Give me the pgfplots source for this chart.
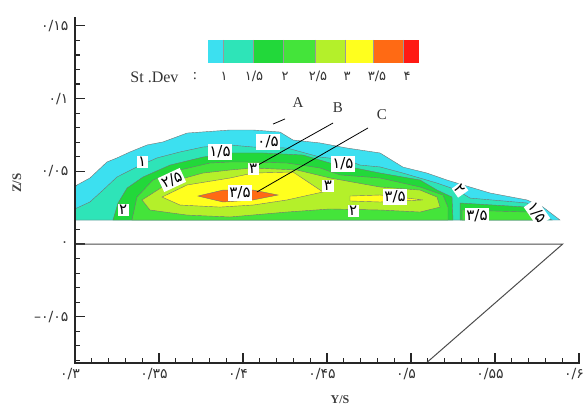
\documentclass[border=0pt]{standalone}
\usepackage{pgfplots}
\pgfplotsset{compat=1.18}
\usepackage{fontspec}
\setmainfont{Liberation Serif}
\newfontfamily\fa{DejaVu Sans}
\definecolor{c0}{HTML}{3CE0F0}
\definecolor{c1}{HTML}{2EE4B8}
\definecolor{c2}{HTML}{22D83A}
\definecolor{c3}{HTML}{44E43A}
\definecolor{c4}{HTML}{B4F02A}
\definecolor{c5}{HTML}{FFFF1E}
\definecolor{c6}{HTML}{FF6A14}
\definecolor{c7}{HTML}{FF1A14}
\tikzset{lab/.style={fill=white, inner sep=1.5pt, font=\fa\fontsize{15}{15}\selectfont}}
\begin{document}
\begin{tikzpicture}
\useasboundingbox (0,0) rectangle (587pt,408pt);
\begin{axis}[
  at={(75pt,45.3pt)}, anchor=south west,
  scale only axis, width=504pt, height=345.7pt,
  xmin=0.3, xmax=0.6, ymin=-0.0816, ymax=0.1561,
  axis x line=bottom, axis y line=left,
  axis line style={-, line width=1.5pt, black!85},
  tick align=inside,
  major tick length=10pt, minor tick length=5pt,
  every tick/.style={line width=1.1pt, black!85},
  xtick={0.3,0.35,0.4,0.45,0.5,0.55,0.6},
  xticklabels={{۰/۳},{۰/۳۵},{۰/۴},{۰/۴۵},{۰/۵},{۰/۵۵},{۰/۶}},
  ytick={-0.05,0,0.05,0.1,0.15},
  yticklabels={{–۰/۰۵},{۰},{۰/۰۵},{۰/۱},{۰/۱۵}},
  minor xtick={0.31,0.32,0.33,0.34,0.36,0.37,0.38,0.39,0.41,0.42,0.43,0.44,0.46,0.47,0.48,0.49,0.51,0.52,0.53,0.54,0.56,0.57,0.58,0.59},
  minor ytick={-0.08,-0.07,-0.06,-0.04,-0.03,-0.02,-0.01,0.01,0.02,0.03,0.04,0.06,0.07,0.08,0.09,0.11,0.12,0.13,0.14},
  ticklabel style={font=\fa\fontsize{14}{14}\selectfont, text=black!80},
  xticklabel style={yshift=-2pt, xshift=-5pt},
  yticklabel style={xshift=-3pt},
  clip=false,
]
% >= 0.5
\addplot[fill=c0, draw=black!55, line width=0.4pt] coordinates {
(0.3,0.0165) (0.3,0.0392) (0.3012,0.0406) (0.3089,0.0454) (0.3190,0.0564) (0.3250,0.0592)
(0.3327,0.0633) (0.3429,0.0681) (0.3524,0.0702) (0.3667,0.0763) (0.3923,0.0784)
(0.4060,0.0784) (0.4220,0.0770) (0.4298,0.0715) (0.4458,0.0695) (0.4619,0.0660)
(0.4816,0.0626) (0.4952,0.0529) (0.5095,0.0488) (0.5214,0.0440) (0.5351,0.0392)
(0.5470,0.0351) (0.5690,0.0303) (0.5786,0.0254) (0.5887,0.0165)} -- cycle;
% >= 1
\addplot[fill=c1, draw=black!55, line width=0.4pt] coordinates {
(0.3,0.0165) (0.3,0.0241) (0.3012,0.0248) (0.3089,0.0289) (0.3167,0.0371) (0.3250,0.0461)
(0.3369,0.0530) (0.3488,0.0592) (0.3625,0.0633) (0.3762,0.0667) (0.3923,0.0681)
(0.4060,0.0667) (0.4262,0.0660) (0.4458,0.0598) (0.4619,0.0578) (0.4696,0.0543)
(0.4816,0.0530) (0.4952,0.0488) (0.5155,0.0419) (0.5274,0.0371) (0.5351,0.0316)
(0.5690,0.0282) (0.5750,0.0220) (0.5839,0.0165)} -- cycle;
% >= 1.5
\addplot[fill=c2, draw=black!55, line width=0.4pt] coordinates {
(0.3226,0.0165) (0.3256,0.0282) (0.3310,0.0385) (0.3405,0.0461) (0.3566,0.0543)
(0.3762,0.0598) (0.3923,0.0626) (0.4119,0.0626) (0.4357,0.0612) (0.4518,0.0557)
(0.4816,0.0488) (0.5054,0.0440) (0.5155,0.0371) (0.5244,0.0323) (0.5250,0.0165)} -- cycle;
\addplot[fill=c2, draw=black!55, line width=0.4pt] coordinates {
(0.5292,0.0165) (0.5292,0.0282) (0.5690,0.0254) (0.5786,0.0165)} -- cycle;
% >= 2
\addplot[fill=c3, draw=black!55, line width=0.4pt] coordinates {
(0.3339,0.0165) (0.3369,0.0323) (0.3464,0.0440) (0.3625,0.0509) (0.3804,0.0557)
(0.3923,0.0564) (0.4060,0.0564) (0.4262,0.0557) (0.4458,0.0523) (0.4577,0.0475)
(0.4816,0.0454) (0.5054,0.0392) (0.5190,0.0337) (0.5220,0.0254) (0.5220,0.0165)} -- cycle;
\addplot[fill=c3, draw=black!55, line width=0.4pt] coordinates {
(0.5304,0.0165) (0.5304,0.0234) (0.5690,0.0220) (0.5750,0.0165)} -- cycle;
% >= 2.5
\addplot[fill=c4, draw=black!55, line width=0.4pt] coordinates {
(0.3399,0.0303) (0.3566,0.0426) (0.3762,0.0488) (0.3923,0.0509) (0.4060,0.0523)
(0.4321,0.0509) (0.4518,0.0454) (0.4816,0.0392) (0.5054,0.0371) (0.5155,0.0323)
(0.5173,0.0254) (0.5054,0.0220) (0.4816,0.0234) (0.4518,0.0241) (0.4262,0.0220)
(0.3923,0.0186) (0.3667,0.0199) (0.3446,0.0234)} -- cycle;
% >= 3
\addplot[fill=c5, draw=black!55, line width=0.4pt] coordinates {
(0.3518,0.0323) (0.3667,0.0406) (0.3923,0.0454) (0.4060,0.0488) (0.4298,0.0495)
(0.4476,0.0358) (0.4262,0.0303) (0.4060,0.0268) (0.3863,0.0254) (0.3625,0.0268)} -- cycle;
\addplot[fill=c5, draw=black!55, line width=0.4pt] coordinates {
(0.4637,0.0330) (0.4816,0.0337) (0.5071,0.0303) (0.4816,0.0289) (0.4637,0.0296)} -- cycle;
% >= 3.5
\addplot[fill=c6, draw=black!55, line width=0.4pt] coordinates {
(0.3732,0.0330) (0.3881,0.0371) (0.4060,0.0371) (0.4208,0.0337) (0.4060,0.0303)
(0.3881,0.0289)} -- cycle;
% wing outline
\addplot[black!70, line width=1pt] coordinates {(0.3,0) (0.5903,0) (0.5093,-0.0816)};
% annotation lines
\draw[black, line width=0.8pt] (axis cs:0.4179,0.0825) -- (axis cs:0.4250,0.0860);
\draw[black, line width=0.8pt] (axis cs:0.4536,0.0832) -- (axis cs:0.4089,0.0543);
\draw[black, line width=0.8pt] (axis cs:0.4744,0.0798) -- (axis cs:0.4083,0.0358);
\node[font=\fontsize{15}{15}\selectfont, text=black!80] at (axis cs:0.4327,0.0970) {A};
\node[font=\fontsize{15}{15}\selectfont, text=black!80] at (axis cs:0.4565,0.0935) {B};
\node[font=\fontsize{15}{15}\selectfont, text=black!80] at (axis cs:0.4827,0.0887) {C};
% contour labels
\node[lab] at (axis cs:0.3399,0.0564) {۱};
\node[lab] at (axis cs:0.3863,0.0633) {۱/۵};
\node[lab] at (axis cs:0.4149,0.0702) {۰/۵};
\node[lab] at (axis cs:0.4060,0.0516) {۳};
\node[lab, rotate=25] at (axis cs:0.3577,0.0440) {۲/۵};
\node[lab] at (axis cs:0.3982,0.0351) {۳/۵};
\node[lab] at (axis cs:0.3286,0.0234) {۲};
\node[lab] at (axis cs:0.4595,0.0550) {۱/۵};
\node[lab] at (axis cs:0.4506,0.0399) {۳};
\node[lab] at (axis cs:0.4905,0.0323) {۳/۵};
\node[lab] at (axis cs:0.4655,0.0227) {۲};
\node[lab, rotate=-55] at (axis cs:0.5292,0.0375) {۲};
\node[lab] at (axis cs:0.5393,0.0193) {۳/۵};
\node[lab, rotate=-55] at (axis cs:0.5750,0.0215) {۱/۵};
\end{axis}
% legend and frame (pixel coordinates)
\begin{scope}[shift={(0,408pt)}, x=1pt, y=-1pt]
\fill[black!85] (74.2,17) rectangle (75.8,363.5);
\fill[black!85] (74.2,361.9) rectangle (579.8,363.5);
\fill[c0] (208,40) rectangle (223,63);
\fill[c1] (223,40) rectangle (253,63);
\fill[c2] (253,40) rectangle (283,63);
\fill[c3] (283,40) rectangle (315,63);
\fill[c4] (315,40) rectangle (345,63);
\fill[c5] (345,40) rectangle (373,63);
\fill[c6] (373,40) rectangle (403,63);
\fill[c7] (403,40) rectangle (419,63);
\foreach \xx in {223,253,283,315,345,373,403} \draw[black!40, line width=0.3pt] (\xx,40) -- (\xx,63);
\node[anchor=east, font=\fontsize{16}{16}\selectfont, text=black!80] at (182,77) {St .Dev};
\node[font=\fontsize{15}{15}\selectfont, text=black!80] at (195,76) {:};
\begin{scope}[every node/.style={font=\fa\fontsize{13}{13}\selectfont, text=black!80}]
\node at (224,76) {۱};
\node at (254,76) {۱/۵};
\node at (285,76) {۲};
\node at (318,76) {۲/۵};
\node at (347,76) {۳};
\node at (377,76) {۳/۵};
\node at (407,76) {۴};
\end{scope}
\node[font=\bfseries\fontsize{12}{12}\selectfont, text=black!75] at (340,400) {Y/S};
\node[rotate=90, font=\bfseries\fontsize{13}{13}\selectfont, text=black!75] at (17,183) {Z/S};
\end{scope}
\end{tikzpicture}
\end{document}
